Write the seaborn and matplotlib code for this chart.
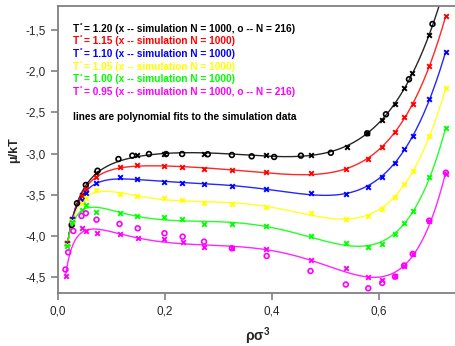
import numpy as np
import matplotlib
matplotlib.use("Agg")
import matplotlib.pyplot as plt
from matplotlib.ticker import MultipleLocator, FuncFormatter
import seaborn as sns

# simulation densities (N = 1000) used for most isotherms
rho_1000 = [0.0174, 0.027, 0.044, 0.052, 0.0705, 0.116, 0.148, 0.199, 0.232, 0.273, 0.325,
            0.389, 0.472, 0.538, 0.580, 0.606, 0.629, 0.647, 0.663, 0.694, 0.725]

# T* = 1.20
rho_120_x = [0.0174, 0.027, 0.044, 0.0705, 0.148, 0.199, 0.273, 0.389, 0.472, 0.540,
             0.578, 0.606, 0.629, 0.647, 0.662, 0.694]
mu_120_x = [-4.09, -3.80, -3.50, -3.24, -3.017, -3.005, -3.008, -3.017, -3.017, -2.916,
            -2.754, -2.592, -2.398, -2.207, -2.025, -1.561]
rho_120_o = [0.0256, 0.0355, 0.052, 0.074, 0.113, 0.139, 0.170, 0.202, 0.232, 0.280,
             0.325, 0.362, 0.404, 0.454, 0.510, 0.578, 0.613, 0.656, 0.700]
mu_120_o = [-3.867, -3.603, -3.381, -3.208, -3.066, -3.025, -3.005, -3.005, -3.005, -3.008,
            -3.017, -3.033, -3.041, -3.025, -2.99, -2.754, -2.523, -2.098, -1.427]

# T* = 1.15, 1.10, 1.05, 1.00 (N = 1000)
mu_115 = [-4.09, -3.79, -3.52, -3.43, -3.28, -3.159, -3.138, -3.15, -3.166, -3.187, -3.203,
          -3.223, -3.239, -3.19, -3.07, -2.924, -2.742, -2.56, -2.398, -1.937, -1.33]
mu_110 = [-4.10, -3.79, -3.56, -3.48, -3.353, -3.288, -3.312, -3.341, -3.353, -3.373, -3.393,
          -3.43, -3.482, -3.487, -3.40, -3.28, -3.118, -2.95, -2.786, -2.341, -1.763]
mu_105 = [-4.11, -3.82, -3.60, -3.543, -3.442, -3.494, -3.519, -3.54, -3.56, -3.596, -3.612,
          -3.646, -3.72, -3.789, -3.762, -3.669, -3.527, -3.366, -3.216, -2.784, -2.208]
mu_100 = [-4.12, -3.83, -3.69, -3.624, -3.705, -3.725, -3.757, -3.773, -3.797, -3.854, -3.857,
          -3.879, -3.996, -4.089, -4.137, -4.097, -3.976, -3.846, -3.693, -3.28, -2.693]

# T* = 0.95
rho_095_x = [0.0144, 0.0443, 0.052, 0.072, 0.115, 0.149, 0.199, 0.233, 0.273, 0.325, 0.389,
             0.472, 0.538, 0.580, 0.606, 0.629, 0.647, 0.663, 0.694, 0.725]
mu_095_x = [-4.485, -3.907, -3.939, -3.96, -3.976, -4.028, -4.04, -4.076, -4.137, -4.149, -4.158,
            -4.291, -4.392, -4.50, -4.534, -4.486, -4.36, -4.218, -3.814, -3.248]
rho_095_o = [0.014, 0.019, 0.0286, 0.044, 0.052, 0.072, 0.115, 0.149, 0.199, 0.233, 0.273,
             0.325, 0.39, 0.472, 0.538, 0.580, 0.606, 0.63, 0.647, 0.663, 0.694, 0.725]
mu_095_o = [-4.407, -4.198, -3.939, -3.757, -3.724, -3.802, -3.854, -3.907, -3.967, -4.008, -4.069,
            -4.149, -4.243, -4.425, -4.589, -4.635, -4.57, -4.494, -4.358, -4.218, -3.814, -3.232]

labels = ["= 1.20 (x -- simulation N = 1000, o -- N = 216)",
          "= 1.15 (x -- simulation N = 1000)",
          "= 1.10 (x -- simulation N = 1000)",
          "= 1.05 (x -- simulation N = 1000)",
          "= 1.00 (x -- simulation N = 1000)",
          "= 0.95 (x -- simulation N = 1000, o -- N = 216)"]
colors = ["#000000", "#FF0000", "#0000FF", "#FFFF00", "#00FF00", "#FF00FF"]

sns.set_style("ticks")
plt.rcParams["font.family"] = ["Liberation Sans", "DejaVu Sans"]
plt.rcParams["mathtext.fontset"] = "custom"
plt.rcParams["mathtext.rm"] = "Liberation Sans"
plt.rcParams["mathtext.bf"] = "Liberation Sans:bold"
plt.rcParams["mathtext.it"] = "Liberation Sans:italic"

fig = plt.figure(figsize=(4.56, 3.46), dpi=100)
ax = fig.add_axes([58 / 456, 1 - 293 / 346, 1.02 - 58 / 456, (293 - 5.7) / 346])

series_x = [(rho_120_x, mu_120_x), (rho_1000, mu_115), (rho_1000, mu_110),
            (rho_1000, mu_105), (rho_1000, mu_100), (rho_095_x, mu_095_x)]
series_o = {0: (rho_120_o, mu_120_o), 5: (rho_095_o, mu_095_o)}

for i, (rho, mu) in enumerate(series_x):
    c = colors[i]
    r = np.array(rho)
    m = np.array(mu)
    # polynomial fit of the excess part (mu - ln rho)
    coef = np.polyfit(r, m - np.log(r), 6)
    rr = np.linspace(r.min(), 0.725, 400)
    sns.lineplot(x=rr, y=np.log(rr) + np.polyval(coef, rr), color=c, lw=1.0,
                 sort=False, ax=ax, alpha=0.85)
    sns.scatterplot(x=r, y=m, marker="x", color=c, s=11, linewidth=1.4, ax=ax, zorder=3)
    if i in series_o:
        ro, mo = series_o[i]
        ax.scatter(ro, mo, marker="o", s=12, facecolors="none", edgecolors=c,
                   linewidths=1.2, zorder=3)

ax.set_xlim(0, (456 * 1.02 - 58) / 535)
ax.set_ylim(-4.692, -1.205)
ax.xaxis.set_major_locator(MultipleLocator(0.2))
ax.yaxis.set_major_locator(MultipleLocator(0.5))
fmt = FuncFormatter(lambda v, p: f"{v:.1f}".replace(".", ",").replace("-0,0", "0,0"))
ax.xaxis.set_major_formatter(fmt)
ax.yaxis.set_major_formatter(fmt)
ax.tick_params(axis="both", direction="out", length=5, width=1.2, color="#808080",
               labelsize=8.5, pad=4)
for s in ax.spines.values():
    s.set_color("#808080")
    s.set_linewidth(1.3)
ax.set_xlabel("")
ax.set_ylabel("")

# legend text block: "T" with a small raised asterisk, then the description
for k, lab in enumerate(labels):
    yk = 1 - (28.7 + 12.7 * k) / 346
    fig.text(73 / 456, yk, "T", color=colors[k], fontsize=7.3, fontweight="bold",
             va="center", ha="left")
    fig.text(79.5 / 456, yk + 3.5 / 346, "*", color=colors[k], fontsize=4.5,
             fontweight="bold", va="center", ha="left")
    fig.text(84 / 456, yk, lab, color=colors[k], fontsize=7.3, fontweight="bold",
             va="center", ha="left")
fig.text(73 / 456, 1 - 117.3 / 346, "lines are polynomial fits to the simulation data",
         color="black", fontsize=7.3, fontweight="bold", va="center", ha="left")

fig.text(14 / 456, 1 - 150 / 346, "μ/kT", rotation=90, fontsize=9, fontweight="bold",
         va="center", ha="center")
fig.text(258 / 456, 1 - 336 / 346, r"ρσ$^{\mathbf{3}}$", fontsize=10, fontweight="bold",
         va="center", ha="center")

fig.savefig("out.png", dpi=100)
